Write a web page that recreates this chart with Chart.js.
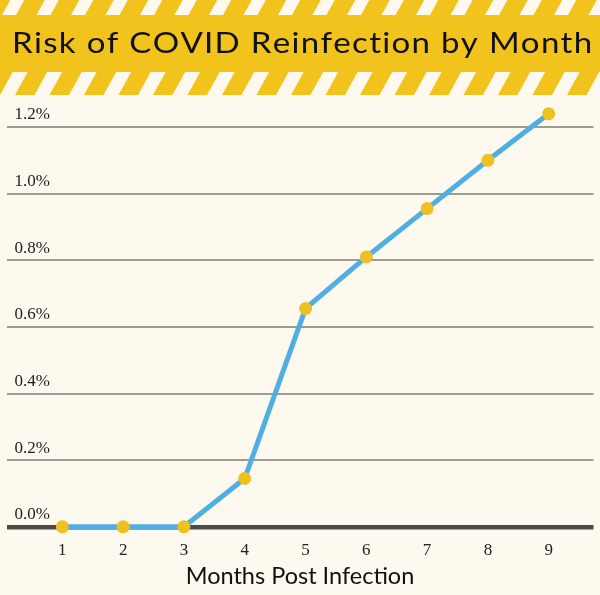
<!DOCTYPE html>
<html>
<head>
<meta charset="utf-8">
<script src="https://cdn.jsdelivr.net/npm/chart.js@4.4.0/dist/chart.umd.min.js"></script>
<style>
  html, body { margin: 0; padding: 0; background: #FDF9EE; }
  #wrap { width: 600px; height: 595px; }
</style>
</head>
<body>
<div id="wrap"><canvas id="c" width="600" height="595"></canvas></div>
<script>
const chartTitle = 'Risk of COVID Reinfection by Month';
const xAxisTitle = 'Months Post Infection';
const months = [1, 2, 3, 4, 5, 6, 7, 8, 9];
const riskPct = [0, 0, 0, 0.145, 0.655, 0.81, 0.955, 1.10, 1.24];
const yTicks = [0, 0.2, 0.4, 0.6, 0.8, 1.0, 1.2];
const yTickLabels = ['0.0%', '0.2%', '0.4%', '0.6%', '0.8%', '1.0%', '1.2%'];

const CREAM = '#FDF9EE';
const YELLOW = '#F1C31C';

function drawStripes(ctx, y0, y1, period, white, phase) {
  const h = y1 - y0;
  const s = h * 0.55;
  ctx.save();
  ctx.beginPath();
  ctx.rect(0, y0, 600, h);
  ctx.clip();
  ctx.fillStyle = YELLOW;
  ctx.fillRect(0, y0, 600, h);
  ctx.fillStyle = CREAM;
  for (let x = -period * 2 + phase; x < 600 + period; x += period) {
    ctx.beginPath();
    ctx.moveTo(x, y1);
    ctx.lineTo(x + white, y1);
    ctx.lineTo(x + white + s, y0);
    ctx.lineTo(x + s, y0);
    ctx.closePath();
    ctx.fill();
  }
  ctx.restore();
}

const bannerPlugin = {
  id: 'banner',
  beforeDraw(chart) {
    const ctx = chart.ctx;
    ctx.save();
    ctx.fillStyle = CREAM;
    ctx.fillRect(0, 0, chart.width, chart.height);
    ctx.fillStyle = YELLOW;
    ctx.fillRect(0, 15, 600, 57);
    drawStripes(ctx, 0, 15, 34.5, 14, 2);
    drawStripes(ctx, 72, 95, 34.5, 15, 0);
    // title text, slightly widened to mimic a wide geometric face
    ctx.font = '29px Lato';
    ctx.fillStyle = '#111';
    ctx.textBaseline = 'alphabetic';
    const sx = 1.14;
    const chars = chartTitle.split('');
    const natural = ctx.measureText(chartTitle).width * sx;
    const targetW = 576;
    const extra = (targetW - natural) / (chars.length - 1);
    let x = 12;
    for (let i = 0; i < chars.length; i++) {
      ctx.save();
      ctx.translate(x, 53);
      ctx.scale(sx, 1);
      ctx.fillText(chars[i], 0, 0);
      ctx.restore();
      x += ctx.measureText(chars[i]).width * sx + extra;
    }
    ctx.restore();
  }
};

const points = months.map((m, i) => ({ x: m, y: riskPct[i] }));

new Chart(document.getElementById('c'), {
  type: 'line',
  data: {
    datasets: [{
      data: points,
      borderColor: '#4FAEE2',
      borderWidth: 5,
      backgroundColor: '#EEC121',
      pointBackgroundColor: '#EEC121',
      pointBorderWidth: 0,
      pointRadius: 6.5,
      tension: 0,
      clip: false
    }]
  },
  options: {
    responsive: false,
    animation: false,
    events: [],
    layout: { padding: { left: -9.7, right: -1, top: 100, bottom: 4.6 } },
    plugins: { legend: { display: false }, title: { display: false }, tooltip: { enabled: false } },
    scales: {
      x: {
        type: 'linear',
        min: 0.0815,
        max: 9.737,
        afterBuildTicks(scale) { scale.ticks = months.map(v => ({ value: v })); },
        grid: { display: false, drawTicks: false },
        border: { display: false },
        ticks: {
          padding: 14,
          color: '#222',
          maxRotation: 0,
          font: { family: 'Liberation Serif', size: 17 },
          callback: (v) => String(v)
        },
        title: {
          display: true,
          text: xAxisTitle,
          color: '#111',
          font: { family: 'Lato', size: 23.5 },
          padding: { top: -13, bottom: 0 }
        }
      },
      y: {
        type: 'linear',
        min: 0,
        max: 1.281,
        afterBuildTicks(scale) { scale.ticks = yTicks.map(v => ({ value: v })); },
        grid: {
          drawTicks: false,
          color: (c) => (c.tick && c.tick.value === 0 ? '#4A4A47' : '#9C9B96'),
          lineWidth: (c) => (c.tick && c.tick.value === 0 ? 4.5 : 2)
        },
        border: { display: false },
        ticks: {
          mirror: true,
          padding: 8,
          labelOffset: -12,
          color: '#222',
          font: { family: 'Liberation Serif', size: 17 },
          callback: (v) => {
            const i = yTicks.findIndex(t => Math.abs(t - v) < 1e-9);
            return i >= 0 ? yTickLabels[i] : '';
          }
        }
      }
    }
  },
  plugins: [bannerPlugin]
});
</script>
</body>
</html>
